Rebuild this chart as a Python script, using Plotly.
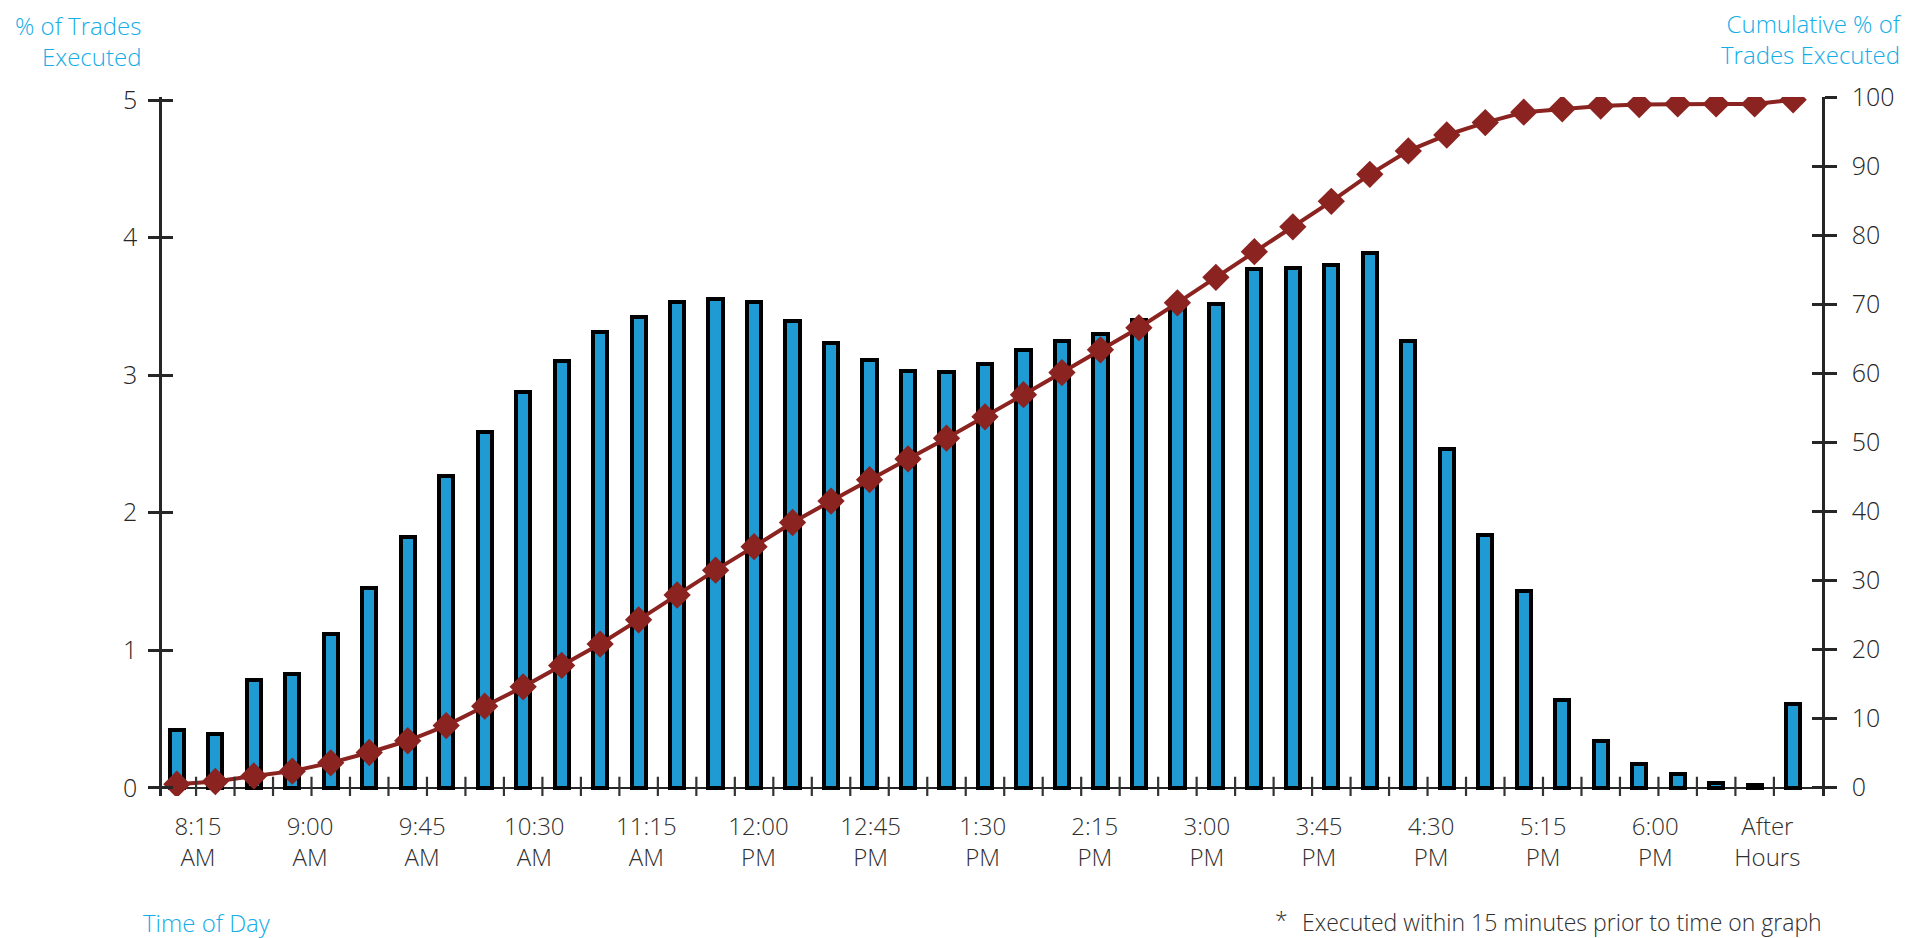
import plotly.graph_objects as go

# 15-minute intervals (time marks the end of each interval), then after-hours
times = [
    "8:15 AM", "8:30 AM", "8:45 AM", "9:00 AM", "9:15 AM", "9:30 AM", "9:45 AM",
    "10:00 AM", "10:15 AM", "10:30 AM", "10:45 AM", "11:00 AM", "11:15 AM",
    "11:30 AM", "11:45 AM", "12:00 PM", "12:15 PM", "12:30 PM", "12:45 PM",
    "1:00 PM", "1:15 PM", "1:30 PM", "1:45 PM", "2:00 PM", "2:15 PM", "2:30 PM",
    "2:45 PM", "3:00 PM", "3:15 PM", "3:30 PM", "3:45 PM", "4:00 PM", "4:15 PM",
    "4:30 PM", "4:45 PM", "5:00 PM", "5:15 PM", "5:30 PM", "5:45 PM", "6:00 PM",
    "6:15 PM", "6:30 PM", "After Hours",
]

# % of trades executed in each interval (left axis)
pct_trades = [
    0.42, 0.39, 0.78, 0.83, 1.12, 1.45, 1.82, 2.27, 2.59, 2.88, 3.10, 3.31,
    3.42, 3.53, 3.55, 3.53, 3.39, 3.23, 3.11, 3.03, 3.02, 3.08, 3.18, 3.25,
    3.30, 3.40, 3.48, 3.52, 3.77, 3.78, 3.80, 3.89, 3.25, 2.46, 1.84, 1.43,
    0.64, 0.34, 0.17, 0.10, 0.035, 0.02, 0.61,
]

# cumulative % of trades executed (right axis)
cum_trades = [
    0.5, 0.9, 1.7, 2.4, 3.6, 5.1, 6.8, 9.0, 11.8, 14.6, 17.7, 20.8, 24.3,
    27.9, 31.5, 34.9, 38.4, 41.5, 44.6, 47.6, 50.6, 53.7, 56.9, 60.1, 63.4,
    66.6, 70.2, 73.9, 77.6, 81.2, 84.9, 88.8, 92.2, 94.5, 96.3, 97.8, 98.3,
    98.7, 98.9, 99.0, 99.0, 99.0, 99.6,
]

# axis labels shown under the bars
tick_labels = [
    "8:15<br>AM", "9:00<br>AM", "9:45<br>AM", "10:30<br>AM", "11:15<br>AM",
    "12:00<br>PM", "12:45<br>PM", "1:30<br>PM", "2:15<br>PM", "3:00<br>PM",
    "3:45<br>PM", "4:30<br>PM", "5:15<br>PM", "6:00<br>PM", "After<br>Hours",
]
left_ticks = [0, 1, 2, 3, 4, 5]
right_ticks = [0, 10, 20, 30, 40, 50, 60, 70, 80, 90, 100]

BLUE = "#1f9ad3"
RED = "#8b2320"
CYAN = "#13ade8"
INK = "#262626"
FONT = "Open Sans"

W, H = 1908, 938
M_L, M_R, M_T, M_B = 162, 86, 97, 142
PW, PH = W - M_L - M_R, H - M_T - M_B


def px_x(px):
    return (px - M_L) / PW


def px_y(py):
    return (H - M_B - py) / PH


xpos = list(range(len(times)))
n_lab = len(tick_labels)
lab_first, lab_last = 0.55, 41.33
label_pos = [lab_first + i * (lab_last - lab_first) / (n_lab - 1) for i in range(n_lab)]
between_bars = [k + 0.5 for k in range(len(times) - 1)]

X_RANGE = [-0.385, 42.75]
Y_RANGE = [-0.06, 5.022]
Y2_RANGE = [-1.2, 100]

fig = go.Figure()
fig.add_trace(go.Bar(
    x=xpos, y=pct_trades, width=0.37,
    marker=dict(color=BLUE, line=dict(color="#000000", width=4)),
    xaxis="x", yaxis="y", hovertext=times,
))
fig.add_trace(go.Scatter(
    x=xpos, y=cum_trades, mode="lines+markers",
    line=dict(color=RED, width=4),
    marker=dict(symbol="diamond", size=21, color=RED),
    xaxis="x", yaxis="y2", hovertext=times,
))
# empty helpers so the tick-only overlay axes get drawn
for ya in ("y3", "y4"):
    fig.add_trace(go.Scatter(
        x=[None], y=[None], mode="markers", xaxis="x", yaxis=ya,
        hoverinfo="skip", showlegend=False,
    ))

# short separators between bars, crossing the zero line
sep_shapes = [
    dict(type="line", xref="x", yref="y", x0=xb, x1=xb,
         y0=Y_RANGE[0], y1=0.08, line=dict(color="#333333", width=2.2),
         layer="above")
    for xb in between_bars
]

axis_font = dict(family=FONT, size=25, color=INK, weight=300)

fig.update_layout(
    width=W, height=H,
    margin=dict(l=M_L, r=M_R, t=M_T, b=M_B, pad=0),
    paper_bgcolor="white", plot_bgcolor="white",
    showlegend=False, bargap=0,
    font=dict(family=FONT, color=INK),
    shapes=sep_shapes,
    xaxis=dict(
        range=X_RANGE, tickmode="array", tickvals=label_pos, ticktext=tick_labels,
        ticks="", showline=False, showgrid=False, zeroline=False,
        tickfont=dict(family=FONT, size=24, color="#2e2e2e", weight=300),
        ticklabelstandoff=14,
    ),
    yaxis=dict(
        range=Y_RANGE, tickmode="array", tickvals=left_ticks,
        ticks="outside", ticklen=11, tickwidth=2.5, tickcolor=INK,
        showline=True, linewidth=2.5, linecolor=INK,
        zeroline=True, zerolinecolor=INK, zerolinewidth=2,
        showgrid=False, tickfont=axis_font, ticklabelstandoff=6,
    ),
    yaxis2=dict(
        overlaying="y", side="right", anchor="x", range=Y2_RANGE,
        tickmode="array", tickvals=right_ticks,
        ticks="outside", ticklen=12, tickwidth=2.5, tickcolor=INK,
        showline=True, linewidth=2.5, linecolor=INK,
        zeroline=False, showgrid=False, tickfont=axis_font, ticklabelstandoff=10,
    ),
    yaxis3=dict(
        overlaying="y", side="left", anchor="x", range=Y_RANGE,
        tickmode="array", tickvals=left_ticks, ticks="inside", ticklen=11,
        tickwidth=2.5, tickcolor=INK, showticklabels=False,
        showline=False, showgrid=False, zeroline=False,
    ),
    yaxis4=dict(
        overlaying="y", side="right", anchor="x", range=Y2_RANGE,
        tickmode="array", tickvals=right_ticks, ticks="inside", ticklen=10,
        tickwidth=2.5, tickcolor=INK, showticklabels=False,
        showline=False, showgrid=False, zeroline=False,
    ),
)

title_font = dict(family=FONT, size=24, color=CYAN, weight=300)
note_font = dict(family=FONT, size=23, color="#2e2e2e", weight=300)

annotations = [
    dict(text="% of Trades<br>Executed", x=px_x(143), y=px_y(41),
         xanchor="right", yanchor="middle", align="right", font=title_font),
    dict(text="Cumulative % of<br>Trades Executed", x=px_x(1904), y=px_y(39),
         xanchor="right", yanchor="middle", align="right", font=title_font),
    dict(text="Time of Day", x=px_x(141), y=px_y(922),
         xanchor="left", yanchor="middle", align="left", font=title_font),
    dict(text="*", x=px_x(1273), y=px_y(920),
         xanchor="left", yanchor="middle", font=note_font),
    dict(text="Executed within 15 minutes prior to time on graph",
         x=px_x(1824), y=px_y(922), xanchor="right", yanchor="middle",
         font=note_font),
]
for a in annotations:
    a.update(xref="paper", yref="paper", showarrow=False)
fig.update_layout(annotations=annotations)

fig.write_html("out.html")
